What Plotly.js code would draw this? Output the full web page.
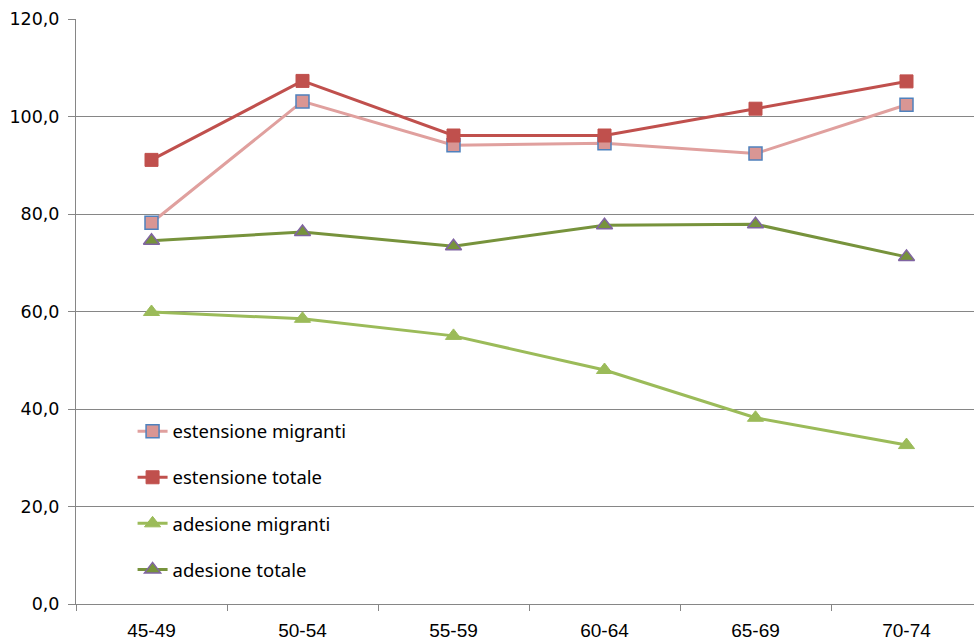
<!DOCTYPE html>
<html><head><meta charset="utf-8">
<script src="https://cdn.plot.ly/plotly-3.0.1.min.js"></script>
<style>html,body{margin:0;padding:0;background:#fff}#chart{width:974px;height:641px}</style>
</head><body><div id="chart"></div>
<script>
var categories = ['45-49','50-54','55-59','60-64','65-69','70-74'];
var estensioneMigranti = [78.2, 103.1, 94.1, 94.5, 92.4, 102.4];
var estensioneTotale = [91.1, 107.3, 96.1, 96.1, 101.6, 107.2];
var adesioneMigranti = [59.9, 58.5, 55.0, 48.0, 38.2, 32.6];
var adesioneTotale = [74.5, 76.3, 73.4, 77.7, 77.9, 71.2];
var yTicks = [0, 20, 40, 60, 80, 100, 120];

var traces = [
  {name:'estensione migranti', x:categories, y:estensioneMigranti, type:'scatter', mode:'lines+markers', legendgroup:'a',
   line:{color:'#E0A09E', width:3}, marker:{symbol:'square', size:13, color:'#D99694', line:{color:'#4F81BD', width:1.5}}},
  {name:'estensione totale', x:categories, y:estensioneTotale, type:'scatter', mode:'lines+markers', legendgroup:'b',
   line:{color:'#C0504D', width:3}, marker:{symbol:'square', size:13, color:'#C0504D', line:{color:'#C0504D', width:1}}},
  {name:'adesione migranti', x:categories, y:adesioneMigranti, type:'scatter', mode:'lines+markers', legendgroup:'c',
   line:{color:'#9BBB59', width:3}, marker:{symbol:'triangle-up', size:14, color:'#9BBB59', line:{color:'#9BBB59', width:1}}},
  {name:'adesione totale', x:categories, y:adesioneTotale, type:'scatter', mode:'lines+markers', legendgroup:'d',
   line:{color:'#77933C', width:3}, marker:{symbol:'triangle-up', size:14, color:'#77933C', line:{color:'#8064A2', width:1.5}}}
];

var layout = {
  width:974, height:641,
  margin:{l:76, r:0, t:19, b:37, pad:0},
  paper_bgcolor:'#fff', plot_bgcolor:'#fff',
  separators:',.',
  showlegend:true,
  legend:{x:0.063, y:0.327, xanchor:'left', yanchor:'top', traceorder:'grouped', tracegroupgap:19,
          itemwidth:30, font:{family:'Noto Sans, Open Sans, sans-serif', size:18.5, color:'#000'}, bgcolor:'rgba(0,0,0,0)'},
  xaxis:{type:'category', range:[-0.5, 5.447], showgrid:false, showline:true, linecolor:'#868686', linewidth:1,
         ticks:'outside', tickson:'boundaries', ticklen:6, tickcolor:'#868686', ticklabelstandoff:9,
         tickfont:{family:'Liberation Sans Narrow, Liberation Sans, sans-serif', size:19, color:'#000'}, fixedrange:true},
  yaxis:{range:[0,120], tickvals:yTicks, tickformat:'.1f', showgrid:true, gridcolor:'#868686', gridwidth:1,
         showline:true, linecolor:'#868686', linewidth:1, ticks:'outside', ticklen:7, tickcolor:'#868686',
         zeroline:false, ticklabelstandoff:5,
         tickfont:{family:'DejaVu Sans, Verdana, sans-serif', size:17.5, color:'#000'}}
};
Plotly.newPlot('chart', traces, layout, {displayModeBar:false, staticPlot:true});
</script></body></html>
